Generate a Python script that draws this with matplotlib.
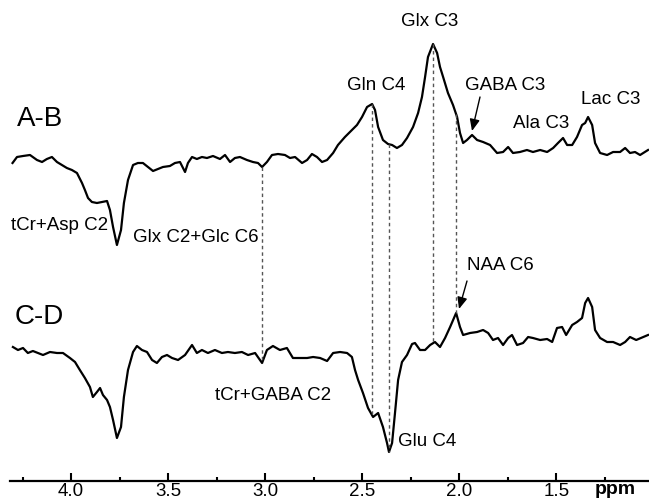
import numpy as np
import matplotlib
matplotlib.use("Agg")
import matplotlib.pyplot as plt
from matplotlib.ticker import FixedLocator

plt.rcParams['font.family'] = ['Liberation Sans', 'DejaVu Sans']

# ---------------- data (chemical shift in ppm, intensity in arbitrary units) ----------------
ppm_ab = [4.302, 4.279, 4.248, 4.212, 4.176, 4.150, 4.125, 4.099, 4.073, 4.047, 4.022, 3.996,
          3.970, 3.944, 3.929, 3.913, 3.893, 3.867, 3.841, 3.815, 3.800, 3.784, 3.764, 3.743,
          3.728, 3.707, 3.681, 3.656, 3.630, 3.604, 3.578, 3.553, 3.527, 3.491, 3.465, 3.439,
          3.413, 3.398, 3.377, 3.352, 3.326, 3.300, 3.269, 3.233, 3.207, 3.181, 3.156, 3.130,
          3.094, 3.063, 3.037, 3.016, 2.991, 2.965, 2.934, 2.898, 2.872, 2.846, 2.810, 2.784,
          2.759, 2.733, 2.707, 2.681, 2.650, 2.625, 2.589, 2.553, 2.527, 2.501, 2.475, 2.449,
          2.434, 2.418, 2.393, 2.367, 2.346, 2.321, 2.295, 2.269, 2.238, 2.212, 2.192, 2.176,
          2.161, 2.135, 2.114, 2.099, 2.083, 2.058, 2.032, 2.011, 1.996, 1.980, 1.960, 1.934,
          1.908, 1.877, 1.841, 1.805, 1.774, 1.748, 1.723, 1.687, 1.651, 1.620, 1.583, 1.547,
          1.516, 1.491, 1.465, 1.444, 1.418, 1.393, 1.367, 1.351, 1.336, 1.315, 1.300, 1.274,
          1.238, 1.207, 1.171, 1.145, 1.120, 1.094, 1.068, 1.027]
int_ab = [-3, 3, 4, 5, 0, -2, 1, 3, -2, -5, -8, -10,
          -13, -23, -30, -38, -42, -43, -42, -41, -50, -67, -85, -70,
          -43, -20, -5, -3, -3, -7, -11, -9, -7, -6, -3, -2,
          -12, -3, 3, 1, 3, 2, 4, 1, 5, -2, 2, 3,
          0, -2, -3, -7, -2, 5, 6, 5, 2, 3, -3, 0,
          6, 3, -2, 0, 7, 15, 23, 30, 35, 43, 53, 56,
          50, 33, 20, 16, 15, 12, 15, 22, 33, 47, 63, 83,
          103, 116, 107, 93, 83, 67, 55, 43, 27, 17, 20, 25,
          20, 18, 15, 7, 8, 13, 7, 8, 10, 8, 10, 8,
          12, 17, 22, 15, 15, 23, 35, 37, 43, 35, 17, 7,
          5, 8, 8, 12, 7, 8, 5, 10]

ppm_cd = [4.300, 4.274, 4.248, 4.223, 4.197, 4.171, 4.145, 4.109, 4.073, 4.042, 4.006, 3.980,
          3.955, 3.929, 3.903, 3.888, 3.867, 3.851, 3.836, 3.815, 3.800, 3.784, 3.764, 3.743,
          3.728, 3.707, 3.681, 3.661, 3.635, 3.609, 3.583, 3.558, 3.532, 3.506, 3.480, 3.449,
          3.413, 3.377, 3.352, 3.326, 3.295, 3.259, 3.223, 3.192, 3.156, 3.120, 3.088, 3.052,
          3.016, 2.991, 2.960, 2.924, 2.888, 2.857, 2.821, 2.784, 2.753, 2.717, 2.681, 2.650,
          2.614, 2.578, 2.553, 2.537, 2.521, 2.496, 2.470, 2.444, 2.418, 2.393, 2.372, 2.362,
          2.346, 2.331, 2.315, 2.295, 2.269, 2.243, 2.228, 2.202, 2.176, 2.150, 2.125, 2.099,
          2.073, 2.047, 2.016, 1.996, 1.980, 1.944, 1.908, 1.877, 1.851, 1.826, 1.800, 1.774,
          1.748, 1.728, 1.702, 1.671, 1.645, 1.620, 1.583, 1.547, 1.521, 1.496, 1.470, 1.449,
          1.418, 1.393, 1.367, 1.351, 1.336, 1.315, 1.300, 1.274, 1.238, 1.207, 1.171, 1.145,
          1.120, 1.088, 1.027]
int_cd = [3, 0, 2, -3, -1, -3, -5, -2, -3, -3, -8, -12,
          -20, -28, -37, -47, -42, -38, -45, -50, -57, -70, -88, -77,
          -47, -20, -2, 4, 0, -2, -10, -13, -7, -5, -8, -10,
          -5, 5, -3, 0, -3, 0, -3, -2, -3, -2, -5, -3,
          -13, 0, 4, 0, 2, -8, -8, -8, -7, -8, -11, -3,
          -2, -3, -7, -20, -30, -43, -58, -67, -63, -77, -93, -102,
          -93, -63, -30, -12, -5, 6, 7, 0, 0, 5, 8, 3,
          12, 23, 37, 23, 15, 17, 18, 20, 17, 10, 12, 5,
          12, 15, 5, 7, 13, 12, 10, 11, 8, 22, 23, 15,
          25, 28, 32, 47, 52, 43, 20, 12, 8, 8, 5, 8,
          13, 10, 15]

trace_labels = ["A-B", "C-D"]
peak_marks = [3.016, 2.449, 2.362, 2.135, 2.016]
major_ticks = [4.0, 3.5, 3.0, 2.5, 2.0, 1.5]
minor_ticks = [4.25, 3.75, 3.25, 2.75, 2.25, 1.75, 1.25]
tick_text = ["4.0", "3.5", "3.0", "2.5", "2.0", "1.5"]

# ---------------- figure ----------------
W, H = 649, 500
fig = plt.figure(figsize=(W / 100, H / 100), dpi=100)
ax = fig.add_axes([10.4 / W, 19 / H, 1 - 10.4 / W, 481 / H])
ax.set_xlim(4.313, 1.022)
ax.set_ylim(0, 481)

off_ab, off_cd = 321, 131
ab = np.array(int_ab, float)
cd = np.array(int_cd, float)
ax.plot(ppm_ab, off_ab + ab, color='black', lw=1.6, solid_joinstyle='round')
ax.plot(ppm_cd, off_cd + cd, color='black', lw=1.6, solid_joinstyle='round')

# dashed connectors between traces
for p in peak_marks:
    top = off_ab + np.interp(p, ppm_ab[::-1], ab[::-1])
    bot = off_cd + np.interp(p, ppm_cd[::-1], cd[::-1])
    ax.plot([p, p], [top, bot], color='#555555', lw=1.0, dashes=(2.5, 2.2))

for s in ['left', 'right', 'top']:
    ax.spines[s].set_visible(False)
ax.spines['bottom'].set_linewidth(1.6)
ax.set_yticks([])
ax.xaxis.set_major_locator(FixedLocator(major_ticks))
ax.xaxis.set_minor_locator(FixedLocator(minor_ticks))
ax.set_xticklabels(tick_text)
ax.tick_params(axis='x', which='major', direction='in', length=6, width=1.5,
               labelsize=13.5, pad=1.5)
ax.tick_params(axis='x', which='minor', direction='in', length=3, width=1.5)

def ftext(x, y, s, size=13.5, **kw):
    fig.text(x / W, 1 - y / H, s, fontsize=size, ha='center', va='center', **kw)

ftext(615, 490, "ppm", size=14, weight='bold')
ftext(40, 119, trace_labels[0], size=20)
ftext(39, 317, trace_labels[1], size=20)
ftext(60, 225, "tCr+Asp C2")
ftext(196, 238, "Glx C2+Glc C6")
ftext(376, 85, "Gln C4")
ftext(430, 22, "Glx C3")
ftext(505, 85, "GABA C3")
ftext(541, 124, "Ala C3")
ftext(611, 100, "Lac C3")
ftext(500, 266, "NAA C6")
ftext(273, 396, "tCr+GABA C2")
ftext(427, 441, "Glu C4")

arrow = dict(arrowstyle='-|>,head_length=0.7,head_width=0.3', color='black', lw=1.0,
             shrinkA=0, shrinkB=0)
ax.annotate('', xy=(472 / W, 1 - 131 / H), xytext=(480 / W, 1 - 97 / H),
            xycoords='figure fraction', textcoords='figure fraction', arrowprops=arrow)
ax.annotate('', xy=(459 / W, 1 - 309 / H), xytext=(467 / W, 1 - 281 / H),
            xycoords='figure fraction', textcoords='figure fraction', arrowprops=arrow)

fig.savefig("out.png", dpi=100)
